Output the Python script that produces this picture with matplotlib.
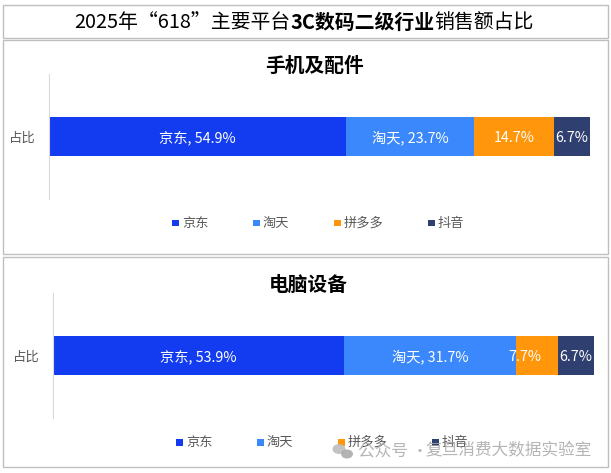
import matplotlib
matplotlib.use("Agg")
import matplotlib.pyplot as plt
from matplotlib.patches import Rectangle, Ellipse

plt.rcParams['font.family'] = ['Noto Sans CJK SC', 'DejaVu Sans']

W, H = 611, 473

platforms = ["京东", "淘天", "拼多多", "抖音"]
colors = ["#133CF0", "#3A88FC", "#FF960C", "#2F3F6F"]
phone_values = [54.9, 23.7, 14.7, 6.7]
phone_labels = ["京东, 54.9%", "淘天, 23.7%", "14.7%", "6.7%"]
pc_values = [53.9, 31.7, 7.7, 6.7]
pc_labels = ["京东, 53.9%", "淘天, 31.7%", "7.7%", "6.7%"]
row_label = "占比"
title_parts = [("2025年“618”主要平台", "normal"), ("3C数码二级行业", "bold"), ("销售额占比", "normal")]

fig = plt.figure(figsize=(W / 100, H / 100), dpi=100)


def fx(x):
    return x / W


def fy(y):
    return 1 - y / H


def frame(x0, y0, x1, y1):
    # zorder below the axes, otherwise the white fill hides the bars
    fig.add_artist(Rectangle((fx(x0), fy(y1)), (x1 - x0) / W, (y1 - y0) / H, transform=fig.transFigure,
                             fc="white", ec="#BFBFBF", lw=1, zorder=-1))


def draw_panel(title, title_x, title_y, values, labels, left, top, bottom, legend_x, legend_y, shifts=(0, 0, 0, 0)):
    # axes spans the vertical axis line, bars are about 541 px wide
    ax = fig.add_axes([fx(left), fy(bottom), 541.5 / W, (bottom - top) / H])
    ax.patch.set_alpha(0)
    start = 0
    for val, col, lab, shift in zip(values, colors, labels, shifts):
        ax.barh(0, val, left=start, height=0.31, color=col)
        ax.text(start + val / 2 + shift, 0, lab, ha="center", va="center_baseline", color="white", fontsize=10.3)
        start += val
    ax.set_xlim(0, 100)
    ax.set_ylim(-0.5, 0.5)
    ax.set_xticks([])
    ax.set_yticks([0], [row_label])
    ax.tick_params(axis="y", length=0, pad=9.5, labelsize=9.6, labelcolor="#595959")
    for side in ["top", "right", "bottom"]:
        ax.spines[side].set_visible(False)
    ax.spines["left"].set_color("#D9D9D9")
    ax.spines["left"].set_linewidth(0.8)
    fig.text(fx(title_x), fy(title_y), title, ha="center", va="center", fontsize=14.2, fontweight="bold", color="black")
    # legend
    steps = [0, 81, 162, 256]
    for name, col, step in zip(platforms, colors, steps):
        x = legend_x + step
        fig.add_artist(Rectangle((fx(x), fy(legend_y + 3.5)), 7 / W, 7 / H, transform=fig.transFigure, fc=col, ec="none"))
        fig.text(fx(x + 10), fy(legend_y), name, ha="left", va="center", fontsize=9.5, color="#595959")


frame(2.5, 5, 607.5, 38)
frame(2.5, 40.5, 607.5, 254)
frame(2.5, 257, 607.5, 467)

# title has a bold middle, so place the pieces one after another
renderer = fig.canvas.get_renderer()
x_pos = 74
for txt, weight in title_parts:
    t = fig.text(fx(x_pos), fy(22), txt, ha="left", va="center", fontsize=14.3, fontweight=weight, color="black")
    x_pos = t.get_window_extent(renderer).x1

draw_panel("手机及配件", 314, 66.5, phone_values, phone_labels, 48.5, 74, 199.5, 172, 223)
draw_panel("电脑设备", 308, 285, pc_values, pc_labels, 52.5, 293, 418, 176, 442, shifts=(0, 0, -2.2, 0))

# watermark
fig.add_artist(Ellipse((fx(339), fy(449)), 13 / W, 10 / H, transform=fig.transFigure, fc="#BDBDBD", ec="none", alpha=0.9))
fig.add_artist(Ellipse((fx(347), fy(454)), 12 / W, 9 / H, transform=fig.transFigure, fc="#ABABAB", ec="none", alpha=0.9))
fig.text(fx(358), fy(450.5), "公众号 ·", ha="left", va="center", fontsize=12, color="#A8A8A8", alpha=0.85)
fig.text(fx(592), fy(450.5), "复旦消费大数据实验室", ha="right", va="center", fontsize=12, color="#A8A8A8", alpha=0.85)

fig.savefig("out.png", dpi=100)
